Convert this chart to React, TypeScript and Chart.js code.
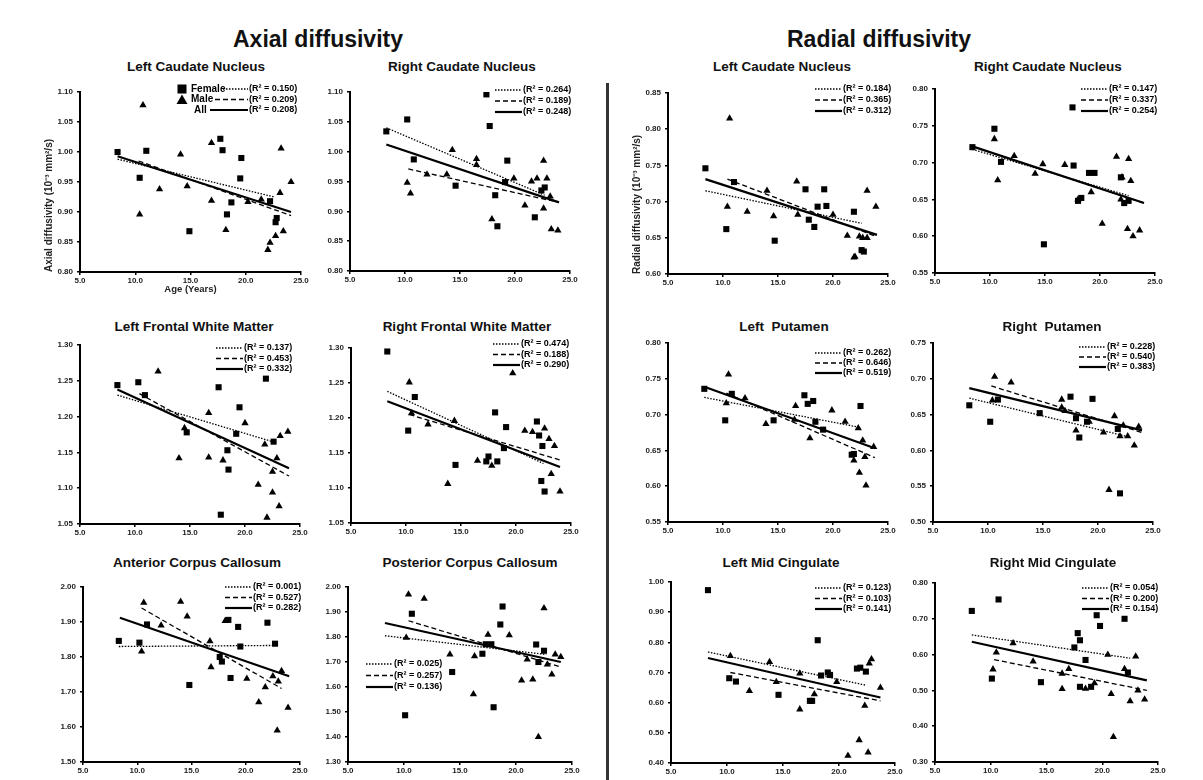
import React, { useEffect, useRef } from "react";
import { Chart, registerables } from "chart.js";
Chart.register(...registerables);

type P = [number, number];

// ---------- data: [age, value] ----------
const axLCN_female: P[] = [[8.4,1.000],[11.0,1.002],[10.4,0.957],[14.9,0.868],[17.7,1.022],[17.9,1.003],[19.6,0.990],[19.5,0.956],[18.7,0.916],[18.3,0.896],[22.2,0.918],[22.8,0.890],[22.7,0.883]];
const axLCN_male: P[] = [[10.7,1.078],[10.4,0.896],[12.2,0.938],[14.1,0.996],[14.7,0.943],[16.9,1.015],[16.9,0.919],[18.2,0.870],[20.2,0.917],[21.4,0.921],[22.0,0.837],[22.2,0.849],[22.7,0.860],[23.1,0.932],[23.2,1.006],[23.4,0.868],[24.1,0.950]];
const axLCN_fitF: P[] = [[8.4,0.988],[22.6,0.925]];
const axLCN_fitM: P[] = [[10.3,0.985],[24.1,0.894]];
const axLCN_fitA: P[] = [[8.4,0.993],[24.1,0.900]];
const axLCN_r2 = ["0.150","0.209","0.208"];

const axRCN_female: P[] = [[8.3,1.034],[10.2,1.054],[10.8,0.987],[14.6,0.943],[17.4,1.096],[17.7,1.043],[18.2,0.927],[18.4,0.875],[19.3,0.985],[19.1,0.949],[21.8,0.890],[22.4,0.935],[22.7,0.940]];
const axRCN_male: P[] = [[10.2,0.948],[10.5,0.930],[12.0,0.962],[13.8,0.962],[14.3,1.003],[16.5,0.988],[16.5,0.978],[17.9,0.887],[19.9,0.955],[20.9,0.910],[21.5,0.950],[22.0,0.955],[22.6,0.985],[22.9,0.955],[23.3,0.870],[23.9,0.868],[22.6,0.905],[23.2,0.925]];
const axRCN_fitF: P[] = [[8.3,1.040],[22.7,0.927]];
const axRCN_fitM: P[] = [[10.3,0.971],[24.0,0.915]];
const axRCN_fitA: P[] = [[8.3,1.012],[24.0,0.915]];
const axRCN_r2 = ["0.264","0.189","0.248"];

const rdLCN_female: P[] = [[8.4,0.746],[10.3,0.662],[11.0,0.727],[14.7,0.646],[17.5,0.717],[17.8,0.675],[18.3,0.665],[18.6,0.693],[19.2,0.717],[19.4,0.694],[21.9,0.686],[22.6,0.633],[22.8,0.631]];
const rdLCN_male: P[] = [[10.6,0.815],[10.4,0.693],[12.2,0.686],[14.0,0.715],[14.6,0.680],[16.7,0.728],[16.8,0.682],[20.0,0.682],[21.3,0.653],[21.9,0.623],[22.0,0.624],[22.4,0.652],[22.7,0.650],[23.1,0.650],[23.1,0.715],[23.9,0.693]];
const rdLCN_fitF: P[] = [[8.4,0.715],[22.6,0.670]];
const rdLCN_fitM: P[] = [[10.4,0.731],[23.9,0.652]];
const rdLCN_fitA: P[] = [[8.4,0.731],[24.0,0.654]];
const rdLCN_r2 = ["0.184","0.365","0.312"];

const rdRCN_female: P[] = [[8.4,0.721],[10.4,0.746],[11.0,0.701],[14.9,0.589],[17.5,0.775],[17.6,0.696],[18.0,0.648],[18.3,0.652],[19.0,0.686],[19.5,0.686],[21.9,0.680],[22.2,0.645],[22.6,0.648]];
const rdRCN_male: P[] = [[10.4,0.732],[10.7,0.676],[12.2,0.709],[14.1,0.685],[14.8,0.698],[16.8,0.697],[18.0,0.650],[19.2,0.660],[20.2,0.617],[21.5,0.708],[22.0,0.680],[22.6,0.705],[22.8,0.675],[22.5,0.610],[23.0,0.600],[23.6,0.608],[21.9,0.650]];
const rdRCN_fitF: P[] = [[8.4,0.718],[22.6,0.655]];
const rdRCN_fitM: P[] = [[10.4,0.712],[24.0,0.645]];
const rdRCN_fitA: P[] = [[8.4,0.722],[24.0,0.645]];
const rdRCN_r2 = ["0.147","0.337","0.254"];

const axLFWM_female: P[] = [[8.4,1.244],[10.3,1.248],[10.9,1.230],[14.7,1.178],[17.6,1.241],[17.8,1.063],[18.4,1.153],[18.5,1.126],[19.2,1.176],[19.5,1.213],[21.9,1.253],[22.6,1.165]];
const axLFWM_male: P[] = [[12.1,1.263],[16.7,1.205],[14.0,1.142],[16.7,1.143],[18.0,1.139],[20.0,1.191],[14.5,1.184],[21.8,1.161],[21.2,1.105],[22.5,1.123],[22.5,1.094],[22.9,1.142],[23.1,1.075],[22.0,1.059],[23.2,1.173],[23.9,1.179]];
const axLFWM_fitF: P[] = [[8.4,1.230],[22.5,1.165]];
const axLFWM_fitM: P[] = [[10.4,1.232],[24.0,1.117]];
const axLFWM_fitA: P[] = [[8.4,1.238],[24.0,1.128]];
const axLFWM_r2 = ["0.137","0.453","0.332"];

const axRFWM_female: P[] = [[8.3,1.295],[10.2,1.182],[10.8,1.230],[14.5,1.133],[17.5,1.145],[17.3,1.138],[18.3,1.138],[18.1,1.208],[19.1,1.187],[18.9,1.157],[21.9,1.195],[22.1,1.175],[22.4,1.160],[22.3,1.110],[22.6,1.095]];
const axRFWM_male: P[] = [[10.3,1.251],[10.5,1.207],[12.0,1.191],[14.4,1.196],[13.8,1.106],[16.5,1.139],[17.8,1.132],[19.7,1.264],[20.8,1.182],[21.5,1.180],[22.6,1.185],[23.0,1.170],[23.5,1.160],[23.2,1.120],[24.0,1.095]];
const axRFWM_fitF: P[] = [[8.3,1.238],[22.5,1.135]];
const axRFWM_fitM: P[] = [[10.3,1.205],[24.0,1.140]];
const axRFWM_fitA: P[] = [[8.3,1.224],[24.0,1.130]];
const axRFWM_r2 = ["0.474","0.188","0.290"];

const rdLPut_female: P[] = [[8.3,0.736],[10.2,0.692],[10.8,0.729],[14.6,0.692],[17.4,0.727],[17.7,0.715],[18.2,0.719],[18.4,0.690],[19.1,0.679],[22.5,0.712],[21.9,0.645],[21.7,0.644]];
const rdLPut_male: P[] = [[10.5,0.756],[10.3,0.716],[12.0,0.723],[13.9,0.687],[16.6,0.712],[16.5,0.693],[17.9,0.667],[19.9,0.706],[21.1,0.690],[22.3,0.681],[22.7,0.664],[21.9,0.636],[22.4,0.619],[22.9,0.641],[23.0,0.601],[23.7,0.655]];
const rdLPut_fitF: P[] = [[8.3,0.724],[22.5,0.682]];
const rdLPut_fitM: P[] = [[10.3,0.730],[23.8,0.640]];
const rdLPut_fitA: P[] = [[8.3,0.739],[23.8,0.653]];
const rdLPut_r2 = ["0.262","0.646","0.519"];

const rdRPut_female: P[] = [[8.3,0.663],[10.2,0.640],[10.9,0.671],[14.7,0.652],[17.5,0.675],[18.0,0.645],[18.3,0.618],[19.0,0.640],[19.5,0.672],[22.0,0.540],[21.8,0.630]];
const rdRPut_male: P[] = [[10.6,0.703],[10.4,0.670],[12.1,0.695],[16.7,0.671],[16.7,0.660],[17.0,0.655],[18.0,0.628],[19.2,0.640],[20.5,0.625],[21.0,0.545],[21.5,0.648],[22.0,0.620],[22.3,0.635],[22.7,0.620],[23.3,0.607],[23.7,0.633]];
const rdRPut_fitF: P[] = [[8.3,0.673],[22.5,0.620]];
const rdRPut_fitM: P[] = [[10.3,0.690],[24.0,0.625]];
const rdRPut_fitA: P[] = [[8.3,0.687],[24.0,0.628]];
const rdRPut_r2 = ["0.228","0.540","0.383"];

const axACC_female: P[] = [[8.3,1.846],[10.2,1.841],[10.9,1.893],[14.8,1.720],[17.6,1.800],[17.8,1.787],[18.4,1.906],[18.6,1.740],[19.3,1.886],[19.5,1.830],[22.0,1.898],[22.7,1.838]];
const axACC_male: P[] = [[10.6,1.955],[10.4,1.816],[12.2,1.890],[14.0,1.958],[14.6,1.916],[16.7,1.845],[16.8,1.771],[18.1,1.903],[20.1,1.738],[21.2,1.671],[21.8,1.714],[22.5,1.745],[23.0,1.730],[22.9,1.590],[23.3,1.760],[23.9,1.655]];
const axACC_fitF: P[] = [[8.3,1.830],[22.7,1.833]];
const axACC_fitM: P[] = [[10.4,1.940],[23.3,1.710]];
const axACC_fitA: P[] = [[8.4,1.912],[24.0,1.745]];
const axACC_r2 = ["0.001","0.527","0.282"];

const axPCC_female: P[] = [[10.1,1.487],[10.7,1.893],[14.3,1.660],[17.0,1.733],[17.3,1.771],[17.8,1.771],[18.0,1.519],[18.6,1.850],[18.8,1.922],[21.8,1.770],[22.5,1.745],[22.0,1.700]];
const axPCC_male: P[] = [[10.4,1.970],[10.2,1.797],[11.8,1.953],[14.1,1.730],[16.3,1.723],[16.2,1.571],[17.5,1.809],[19.4,1.807],[20.5,1.626],[21.0,1.710],[21.5,1.630],[22.0,1.400],[22.5,1.915],[22.8,1.690],[23.2,1.650],[23.5,1.730],[24.0,1.720]];
const axPCC_fitF: P[] = [[8.3,1.805],[22.7,1.730]];
const axPCC_fitM: P[] = [[10.4,1.865],[24.0,1.680]];
const axPCC_fitA: P[] = [[8.3,1.856],[24.0,1.700]];
const axPCC_r2 = ["0.025","0.257","0.136"];

const rdLMC_female: P[] = [[8.3,0.973],[10.2,0.681],[10.8,0.670],[14.6,0.626],[17.4,0.606],[17.6,0.606],[18.1,0.807],[18.4,0.690],[19.0,0.700],[19.2,0.692],[21.6,0.713],[21.9,0.716],[22.4,0.703]];
const rdLMC_male: P[] = [[10.3,0.755],[12.0,0.639],[13.8,0.735],[14.4,0.669],[16.5,0.697],[16.5,0.578],[17.8,0.628],[19.8,0.669],[20.8,0.424],[21.8,0.476],[22.6,0.435],[22.3,0.590],[22.7,0.730],[22.9,0.744],[23.7,0.650]];
const rdLMC_fitF: P[] = [[8.3,0.768],[22.4,0.658]];
const rdLMC_fitM: P[] = [[10.3,0.700],[23.7,0.606]];
const rdLMC_fitA: P[] = [[8.3,0.748],[23.7,0.617]];
const rdLMC_r2 = ["0.123","0.103","0.141"];

const rdRMC_female: P[] = [[8.3,0.722],[10.7,0.754],[10.1,0.533],[14.5,0.523],[17.5,0.620],[17.8,0.660],[18.0,0.640],[18.5,0.585],[19.5,0.710],[19.8,0.680],[22.0,0.700],[22.3,0.550],[18.0,0.510],[19.0,0.510]];
const rdRMC_male: P[] = [[10.2,0.559],[10.5,0.606],[12.0,0.632],[13.8,0.581],[16.4,0.547],[16.4,0.504],[17.0,0.560],[18.5,0.505],[19.3,0.520],[20.5,0.600],[20.8,0.490],[21.0,0.370],[22.0,0.560],[22.5,0.470],[23.0,0.595],[23.2,0.500],[23.8,0.475]];
const rdRMC_fitF: P[] = [[8.3,0.655],[22.5,0.590]];
const rdRMC_fitM: P[] = [[10.3,0.586],[24.0,0.500]];
const rdRMC_fitA: P[] = [[8.3,0.636],[24.0,0.528]];
const rdRMC_r2 = ["0.054","0.200","0.154"];

const xTicks = [5, 10, 15, 20, 25];

// ---------- layout ----------
const FONT = '"Liberation Sans", Arial, Helvetica, sans-serif';
const YW = 46, XH = 26, PT = 16, PR = 16;

interface Panel {
  title: string; tx: number; ty: number;
  area: [number, number, number, number];
  yMin: number; yMax: number; yStep: number;
  female: P[]; male: P[]; fitF: P[]; fitM: P[]; fitA: P[]; r2: string[];
  lx: number; ly: number; ldy: number;
  gender?: boolean; yTitle?: string; xTitle?: string;
}

const panels: Panel[] = [
  { title: "Left Caudate Nucleus", tx: 196, ty: 67, area: [80, 92, 301, 272], yMin: 0.8, yMax: 1.1, yStep: 0.05,
    female: axLCN_female, male: axLCN_male, fitF: axLCN_fitF, fitM: axLCN_fitM, fitA: axLCN_fitA, r2: axLCN_r2,
    lx: 249, ly: 89, ldy: 10.5, gender: true, yTitle: "Axial diffusivity (10\u207B\u00B3 mm\u00B2/s)", xTitle: "Age (Years)" },
  { title: "Right Caudate Nucleus", tx: 462, ty: 67, area: [350, 92, 570, 271], yMin: 0.8, yMax: 1.1, yStep: 0.05,
    female: axRCN_female, male: axRCN_male, fitF: axRCN_fitF, fitM: axRCN_fitM, fitA: axRCN_fitA, r2: axRCN_r2,
    lx: 523, ly: 90, ldy: 11 },
  { title: "Left Caudate Nucleus", tx: 782, ty: 67, area: [668, 93, 888, 274], yMin: 0.6, yMax: 0.85, yStep: 0.05,
    female: rdLCN_female, male: rdLCN_male, fitF: rdLCN_fitF, fitM: rdLCN_fitM, fitA: rdLCN_fitA, r2: rdLCN_r2,
    lx: 843, ly: 89, ldy: 11, yTitle: "Radial diffusivity (10\u207B\u00B3 mm\u00B2/s)" },
  { title: "Right Caudate Nucleus", tx: 1048, ty: 67, area: [935, 89, 1155, 273], yMin: 0.55, yMax: 0.8, yStep: 0.05,
    female: rdRCN_female, male: rdRCN_male, fitF: rdRCN_fitF, fitM: rdRCN_fitM, fitA: rdRCN_fitA, r2: rdRCN_r2,
    lx: 1109, ly: 89, ldy: 11 },
  { title: "Left Frontal White Matter", tx: 194, ty: 327, area: [80, 345, 300, 524], yMin: 1.05, yMax: 1.3, yStep: 0.05,
    female: axLFWM_female, male: axLFWM_male, fitF: axLFWM_fitF, fitM: axLFWM_fitM, fitA: axLFWM_fitA, r2: axLFWM_r2,
    lx: 244, ly: 348, ldy: 10.5 },
  { title: "Right Frontal White Matter", tx: 467, ty: 327, area: [351, 348, 571, 523], yMin: 1.05, yMax: 1.3, yStep: 0.05,
    female: axRFWM_female, male: axRFWM_male, fitF: axRFWM_fitF, fitM: axRFWM_fitM, fitA: axRFWM_fitA, r2: axRFWM_r2,
    lx: 521, ly: 344, ldy: 10.5 },
  { title: "Left  Putamen", tx: 784, ty: 327, area: [668, 343, 888, 522], yMin: 0.55, yMax: 0.8, yStep: 0.05,
    female: rdLPut_female, male: rdLPut_male, fitF: rdLPut_fitF, fitM: rdLPut_fitM, fitA: rdLPut_fitA, r2: rdLPut_r2,
    lx: 843, ly: 353, ldy: 10 },
  { title: "Right  Putamen", tx: 1052, ty: 327, area: [933, 343, 1153, 522], yMin: 0.5, yMax: 0.75, yStep: 0.05,
    female: rdRPut_female, male: rdRPut_male, fitF: rdRPut_fitF, fitM: rdRPut_fitM, fitA: rdRPut_fitA, r2: rdRPut_r2,
    lx: 1107, ly: 347, ldy: 10 },
  { title: "Anterior Corpus Callosum", tx: 197, ty: 563, area: [83, 587, 300, 762], yMin: 1.5, yMax: 2.0, yStep: 0.1,
    female: axACC_female, male: axACC_male, fitF: axACC_fitF, fitM: axACC_fitM, fitA: axACC_fitA, r2: axACC_r2,
    lx: 253, ly: 587, ldy: 10.5 },
  { title: "Posterior Corpus Callosum", tx: 470, ty: 563, area: [348, 587, 572, 762], yMin: 1.3, yMax: 2.0, yStep: 0.1,
    female: axPCC_female, male: axPCC_male, fitF: axPCC_fitF, fitM: axPCC_fitM, fitA: axPCC_fitA, r2: axPCC_r2,
    lx: 394, ly: 664, ldy: 11.5 },
  { title: "Left Mid Cingulate", tx: 781, ty: 563, area: [671, 582, 895, 763], yMin: 0.4, yMax: 1.0, yStep: 0.1,
    female: rdLMC_female, male: rdLMC_male, fitF: rdLMC_fitF, fitM: rdLMC_fitM, fitA: rdLMC_fitA, r2: rdLMC_r2,
    lx: 843, ly: 588, ldy: 10.5 },
  { title: "Right Mid Cingulate", tx: 1053, ty: 563, area: [935, 583, 1158, 762], yMin: 0.3, yMax: 0.8, yStep: 0.1,
    female: rdRMC_female, male: rdRMC_male, fitF: rdRMC_fitF, fitM: rdRMC_fitM, fitA: rdRMC_fitA, r2: rdRMC_r2,
    lx: 1110, ly: 588, ldy: 10.5 },
];

const toXY = (a: P[]) => a.map(([x, y]) => ({ x, y }));

function makeLegend(p: Panel) {
  return {
    id: "r2legend",
    afterDraw(chart: any) {
      const ctx: CanvasRenderingContext2D = chart.ctx;
      const ox = p.area[0] - YW, oy = p.area[1] - PT;
      ctx.save();
      ctx.font = `bold 9px ${FONT}`;
      ctx.fillStyle = "#000";
      ctx.strokeStyle = "#000";
      ctx.textBaseline = "middle";
      ctx.textAlign = "left";
      const styles = [
        { dash: [1.5, 1.5], w: 1.3 },
        { dash: [5, 3], w: 1.3 },
        { dash: [] as number[], w: 2.2 },
      ];
      const starts = p.gender ? [223, 215, 210] : null;
      for (let i = 0; i < 3; i++) {
        const y = p.ly + i * p.ldy - oy;
        const tx = p.lx - ox;
        const sx = starts ? starts[i] - ox : tx - 28;
        ctx.setLineDash(styles[i].dash);
        ctx.lineWidth = styles[i].w;
        ctx.beginPath();
        ctx.moveTo(sx, y);
        ctx.lineTo(tx - 1, y);
        ctx.stroke();
        ctx.setLineDash([]);
        ctx.fillText(`(R\u00B2 = ${p.r2[i]})`, tx, y);
      }
      if (p.gender) {
        ctx.font = `bold 10px ${FONT}`;
        const mx = 182 - ox;
        const y0 = p.ly - oy;
        ctx.fillRect(mx - 4.5, y0 - 4.5, 9, 9);
        const y1 = y0 + p.ldy;
        ctx.beginPath();
        ctx.moveTo(mx, y1 - 5);
        ctx.lineTo(mx + 5.5, y1 + 4.5);
        ctx.lineTo(mx - 5.5, y1 + 4.5);
        ctx.closePath();
        ctx.fill();
        ctx.fillText("Female", 191 - ox, y0);
        ctx.fillText("Male", 191 - ox, y1);
        ctx.fillText("All", 194 - ox, y0 + 2 * p.ldy);
      }
      ctx.restore();
    },
  };
}

function ScatterPanel({ p }: { p: Panel }) {
  const ref = useRef<HTMLCanvasElement>(null);
  const [l, t, r, b] = p.area;
  const cw = r - l + YW + PR;
  const ch = b - t + PT + XH;
  useEffect(() => {
    const tickFont = { size: 8, weight: "bold" as const, family: FONT };
    const lineDs = (d: P[], dash: number[], w: number) => ({
      data: toXY(d), showLine: true, borderDash: dash, borderWidth: w,
      borderColor: "#000", pointRadius: 0, fill: false,
    });
    const chart = new Chart(ref.current!, {
      type: "scatter",
      data: {
        datasets: [
          lineDs(p.fitF, [1.5, 1.5], 1.3),
          lineDs(p.fitM, [5, 3], 1.3),
          lineDs(p.fitA, [], 2.2),
          { data: toXY(p.female), pointStyle: "rect", pointRadius: 4.3, backgroundColor: "#000", borderColor: "#000", borderWidth: 0 },
          { data: toXY(p.male), pointStyle: "triangle", pointRadius: 4.2, backgroundColor: "#000", borderColor: "#000", borderWidth: 0 },
        ] as any,
      },
      options: {
        responsive: false,
        animation: false,
        devicePixelRatio: 1,
        layout: { padding: { top: PT, right: PR, left: 0, bottom: 0 } },
        plugins: { legend: { display: false }, tooltip: { enabled: false }, title: { display: false } },
        scales: {
          x: {
            type: "linear", min: 5, max: 25,
            afterBuildTicks: (s: any) => { s.ticks = xTicks.map((v) => ({ value: v })); },
            afterFit: (s: any) => { s.height = XH; s.paddingLeft = 0; s.paddingRight = 0; },
            ticks: { callback: (v: any) => Number(v).toFixed(1), font: tickFont, color: "#222", padding: 1, maxRotation: 0, autoSkip: false },
            grid: { drawOnChartArea: false, drawTicks: true, tickLength: 3, color: "#000", lineWidth: 1.5 },
            border: { display: true, color: "#000", width: 2 },
            title: p.xTitle ? { display: true, text: p.xTitle, font: { size: 9.5, weight: "bold", family: FONT }, color: "#222", padding: { top: 0, bottom: 3 } } : { display: false },
          },
          y: {
            type: "linear", min: p.yMin, max: p.yMax,
            ticks: { stepSize: p.yStep, callback: (v: any) => Number(v).toFixed(2), font: tickFont, color: "#222", padding: 4 },
            afterFit: (s: any) => { s.width = YW; s.paddingTop = 0; s.paddingBottom = 0; },
            grid: { drawOnChartArea: false, drawTicks: true, tickLength: 3, color: "#000", lineWidth: 1.5 },
            border: { display: true, color: "#000", width: 2 },
            title: p.yTitle ? { display: true, text: p.yTitle, align: "start", font: { size: 10, weight: "bold", family: FONT }, color: "#222", padding: { top: 9, bottom: 0 } } : { display: false },
          },
        },
      } as any,
      plugins: [makeLegend(p)],
    });
    return () => chart.destroy();
  }, []);
  return (
    <canvas
      ref={ref}
      width={cw}
      height={ch}
      style={{ position: "absolute", left: l - YW, top: t - PT, width: cw, height: ch }}
    />
  );
}

const titleStyle = (x: number, y: number, size: number): React.CSSProperties => ({
  position: "absolute", left: x, top: y, transform: "translate(-50%, -50%)",
  fontFamily: FONT, fontWeight: "bold", fontSize: size, color: "#111", whiteSpace: "pre", lineHeight: 1,
});

export default function App() {
  return (
    <div style={{ position: "absolute", left: 0, top: 0, width: 1203, height: 780, background: "#fff", overflow: "hidden" }}>
      <div style={titleStyle(318, 39, 23)}>Axial diffusivity</div>
      <div style={titleStyle(879, 39, 23)}>Radial diffusivity</div>
      <div style={{ position: "absolute", left: 606, top: 83, width: 2.5, height: 697, background: "#333" }} />
      {panels.map((p, i) => (
        <React.Fragment key={i}>
          <div style={titleStyle(p.tx, p.ty, 13.5)}>{p.title}</div>
          <ScatterPanel p={p} />
        </React.Fragment>
      ))}
    </div>
  );
}
